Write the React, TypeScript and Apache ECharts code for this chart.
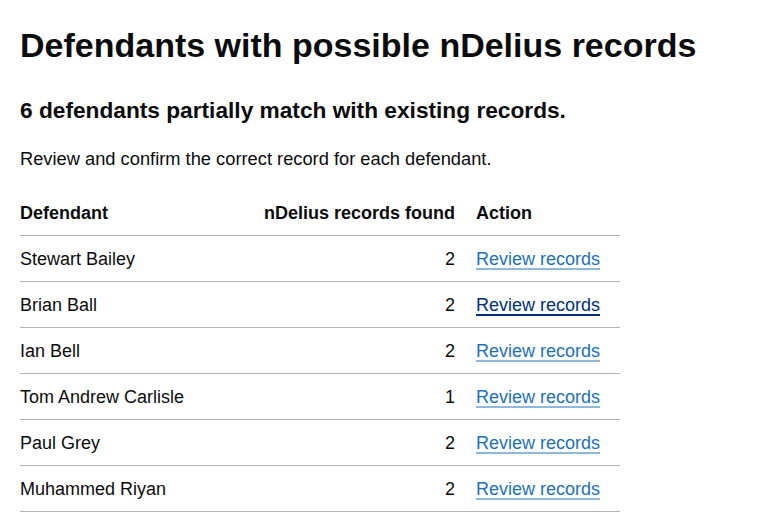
import { useEffect, useRef } from 'react'
import * as echarts from 'echarts'

const title = 'Defendants with possible nDelius records'
const subtitle = '6 defendants partially match with existing records.'
const intro = 'Review and confirm the correct record for each defendant.'
const headers = ['Defendant', 'nDelius records found', 'Action']
const defendants = ['Stewart Bailey', 'Brian Ball', 'Ian Bell', 'Tom Andrew Carlisle', 'Paul Grey', 'Muhammed Riyan']
const recordsFound = [2, 2, 2, 1, 2, 2]
const actionLabel = 'Review records'
const hoveredRow = 1

const FONT = 'Liberation Sans, Arial, sans-serif'
const TEXT = '#0b0c0c'
const LINK = '#1d70b8'
const LINK_HOVER = '#003078'
const BORDER = '#b1b4b6'

function measure(text: string, font: string) {
  const c = document.createElement('canvas').getContext('2d')!
  c.font = font
  return c.measureText(text).width
}

export default function App() {
  const ref = useRef<HTMLDivElement>(null)

  useEffect(() => {
    if (!ref.current) return
    const chart = echarts.init(ref.current, undefined, { renderer: 'svg' })

    const left = 20
    const right = 620
    const numRight = 455
    const actionX = 476
    const headerY = 213
    const firstLine = 235
    const rowH = 46
    const els: any[] = []

    const txt = (x: number, y: number, text: string, size: number, weight: string, fill = TEXT, align = 'left') =>
      els.push({
        type: 'text', x, y,
        style: { text, fontSize: size, fontWeight: weight, fontFamily: FONT, fill, align, verticalAlign: 'middle' },
      })
    const hline = (x1: number, x2: number, y: number, stroke: string, w = 1) =>
      els.push({ type: 'line', shape: { x1, y1: y, x2, y2: y }, style: { stroke, lineWidth: w } })

    txt(left, 45, title, 34, 'bold')
    txt(left, 110, subtitle, 22.7, 'bold')
    txt(left, 158, intro, 18.3, 'normal')

    txt(left, headerY, headers[0], 18, 'bold')
    txt(numRight, headerY, headers[1], 18, 'bold', TEXT, 'right')
    txt(actionX, headerY, headers[2], 18, 'bold')
    hline(left, right, firstLine + 0.5, BORDER)

    const linkW = measure(actionLabel, `18px ${FONT}`)
    defendants.forEach((name, i) => {
      const cy = firstLine + rowH * i + 24
      txt(left, cy, name, 18, 'normal')
      txt(numRight, cy, String(recordsFound[i]), 18, 'normal', TEXT, 'right')
      const col = i === hoveredRow ? LINK_HOVER : LINK
      txt(actionX, cy, actionLabel, 18, 'normal', col)
      hline(actionX, actionX + linkW, cy + 10, col, i === hoveredRow ? 2 : 1)
      hline(left, right, firstLine + rowH * (i + 1) + 0.5, BORDER)
    })

    chart.setOption({ animation: false, graphic: { elements: els } })
    return () => chart.dispose()
  }, [])

  return (
    <div
      ref={ref}
      style={{ position: 'fixed', left: 0, top: 0, width: 782, height: 532, background: '#fff' }}
    />
  )
}
